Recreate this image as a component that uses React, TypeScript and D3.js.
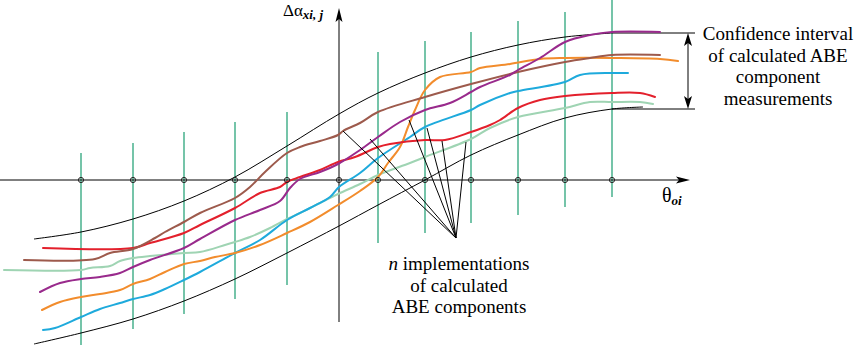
import React from "react";
import * as d3 from "d3";

// θ (x) and Δα (y) in chart units
const X_TICKS = [-51.6, -41.2, -31, -20.8, -10.4, 0, 7.8, 17.2, 26.4, 35.8, 45.2, 54.6];
const GRID_TOP = [5.4, 7.4, 9.6, 11.6, 13.6, null, 25.6, 27.8, 29.6, 31.8, 33.6, 36];
const GRID_BOTTOM = [-33, -29.8, -26.8, -23.8, -21, null, -12.6, -10.6, -8.6, -7, -5.4, -3.4];

const UPPER_BOUND: [number, number][] = [
  [-61, -11.8], [-51.6, -10.4], [-41.2, -7.8], [-31, -4.2], [-20.8, 0.6], [-10.4, 6.8],
  [0, 13.2], [7.8, 17.4], [17.2, 21.4], [26.4, 24.6], [35.8, 27], [45.2, 28.6], [54.6, 29.4],
];
const LOWER_BOUND: [number, number][] = [
  [-61, -32.8], [-51.6, -30.6], [-41.2, -27.8], [-31, -24.2], [-20.8, -19.8], [-10.4, -14.6],
  [0, -9.2], [7.8, -5], [17.2, 0], [26.4, 5], [35.8, 9], [45.2, 12.4], [54.6, 14.2], [60.8, 14.6],
];

const RED: [number, number][] = [
  [-59.2, -13.6], [-41.2, -13.6], [-37.8, -12.6], [-31, -10.6], [-27.8, -9], [-20.8, -5.6],
  [-15.8, -2.6], [-11.8, -1.4], [-10.4, -0.4], [-7.8, 0.6], [-3.8, 2], [-0.2, 3.6], [3.2, 4.6],
  [7.8, 6.6], [10.2, 7.2], [17.2, 8], [21.2, 8], [26.4, 9.6], [30.2, 11], [32.2, 12], [35.8, 14.4],
  [40.2, 16], [45.2, 16.8], [54.6, 17.4], [60.2, 17.4], [63.2, 16.6],
];
const BROWN: [number, number][] = [
  [-63, -16], [-48.8, -15.8], [-45.8, -14.6], [-41.2, -13.8], [-36.8, -11.6], [-34.8, -10.4],
  [-31, -8.4], [-27.8, -6.6], [-20.8, -3.6], [-17.8, -1.4], [-14.8, 1.6], [-10.4, 5.4], [-7.8, 6.6],
  [-3.8, 7.8], [-0.2, 9], [0.8, 9.8], [4.2, 11.4], [7.8, 13.6], [17.2, 16.6], [26.4, 19.2],
  [35.8, 21.6], [45.2, 23.6], [50.2, 24.4], [54.6, 25], [64.2, 25],
];
const LIGHT_GREEN: [number, number][] = [
  [-67, -18], [-51.6, -18], [-49.8, -17.6], [-45.8, -17.2], [-43.8, -16.2], [-41.2, -15.6],
  [-37.8, -15.2], [-31, -14.6], [-27.8, -14.4], [-22.8, -13], [-20.8, -12.4], [-17.8, -11.4],
  [-13.8, -9.6], [-10.4, -7.8], [-7.8, -6.6], [-3.8, -4.6], [-0.2, -2.8], [4.2, -0.8], [7.8, 1],
  [14.2, 3.4], [17.2, 4.6], [26.4, 8.2], [30.2, 10.4], [35.8, 12.6], [45.2, 14.4], [50.2, 15.6],
  [54.6, 15.6], [60.2, 15.6], [62.8, 15.2],
];
const PURPLE: [number, number][] = [
  [-59.8, -22.4], [-55.8, -20.6], [-51.6, -19.8], [-47.8, -19.4], [-43.8, -18.6], [-41.2, -17.4],
  [-37.8, -16], [-31, -13.6], [-27.8, -11.8], [-20.8, -8], [-15.8, -6], [-11.8, -4.2], [-9.8, -1.6],
  [-7.8, 0.2], [-3.8, 1.6], [-0.2, 3.2], [4.2, 6], [7.8, 8.6], [12.2, 11.6], [17.2, 14], [22.2, 15.4],
  [26.4, 17.6], [28.2, 18.6], [34.2, 21], [35.8, 22], [40.2, 24.4], [45.2, 27.6], [50.2, 29],
  [54.6, 29.6], [64.2, 29.6],
];
const ORANGE: [number, number][] = [
  [-59.4, -26], [-55.8, -24.4], [-51.6, -23.4], [-47.8, -22.8], [-43.8, -22], [-41.2, -20.8],
  [-37.8, -19.8], [-34.8, -18.4], [-31, -16.8], [-27.8, -16.2], [-24.8, -15.4], [-20.8, -14.6],
  [-15.8, -13], [-10.4, -10.6], [-5.8, -8.4], [-0.2, -5], [4.2, -2.2], [7.8, 0.6], [9.8, 3.4],
  [12.2, 6.6], [13.8, 10.6], [15.2, 14], [17.2, 18], [20.2, 20.6], [26.4, 21.6], [28.2, 22.4],
  [34.2, 23.2], [40.2, 24.2], [45.2, 24.4], [54.6, 24.4], [64.2, 24.2], [67.8, 23.8],
];
const CYAN: [number, number][] = [
  [-59.2, -30], [-56.8, -29.6], [-51.6, -27.4], [-47.8, -25.8], [-43.8, -24.6], [-41.2, -23.8],
  [-37.8, -23], [-34.8, -21.8], [-31, -20], [-27.8, -18.4], [-20.8, -14.6], [-15.8, -12],
  [-10.4, -8], [-5.8, -5.6], [-1.8, -3.4], [0, -1.4], [4.2, 1.4], [7.8, 4.4], [14.2, 8.6],
  [17.2, 10.6], [26.4, 14], [28.2, 15], [34.2, 17.4], [35.8, 17.8], [45.2, 19.6], [48.2, 21],
  [54.6, 21.4], [57.8, 21.4],
];

const SERIES = [
  { name: "lightgreen", color: "#9fd4b3", data: LIGHT_GREEN },
  { name: "cyan", color: "#1eaadc", data: CYAN },
  { name: "orange", color: "#f28c2c", data: ORANGE },
  { name: "red", color: "#e3202c", data: RED },
  { name: "brown", color: "#9d5a4c", data: BROWN },
  { name: "purple", color: "#992a8c", data: PURPLE },
];

// pointer lines from the label to the curves
const POINTER_FROM: [number, number] = [23.4, -11.6];
const POINTER_TO: [number, number][] = [
  [0.8, 9.8], [6.2, 8.2], [14, 12], [17.6, 10.4], [20.6, 7.8], [25.4, 7.6],
];

const CI_LABEL = ["Confidence interval", "of calculated ABE", "component", "measurements"];
const N_LABEL = ["implementations", "of calculated", "ABE components"];

const W = 858;
const H = 345;
const FONT = "'Liberation Serif', 'Times New Roman', 'DejaVu Serif', serif";

export default function App() {
  const x = d3.scaleLinear().domain([-67.8, 70.2]).range([0, 690]);
  const y = d3.scaleLinear().domain([-33, 36]).range([345, 0]);
  const line = d3
    .line<[number, number]>()
    .x((d) => x(d[0]))
    .y((d) => y(d[1]))
    .curve(d3.curveCatmullRom.alpha(0.5));

  const ox = x(0);
  const oy = y(0);
  const xEnd = x(70.2);
  const yTop = y(34.4);
  const yBottom = y(-28.4);

  const upperEnd = UPPER_BOUND[UPPER_BOUND.length - 1];
  const lowerEndY = y(14.2);
  const bracketX = x(69.8);
  const bracketEnd = x(71.2);
  const topY = y(upperEnd[1]);

  const ts: React.CSSProperties = { fontFamily: FONT };

  return (
    <svg
      width={W}
      height={H}
      style={{ position: "absolute", left: 0, top: 0, background: "#fff" }}
    >
      {/* green vertical lines */}
      {X_TICKS.map((t, i) =>
        GRID_TOP[i] == null ? null : (
          <line
            key={"g" + i}
            x1={x(t)}
            x2={x(t)}
            y1={y(GRID_TOP[i] as number)}
            y2={y(GRID_BOTTOM[i] as number)}
            stroke="#66bea0"
            strokeWidth={1.8}
          />
        )
      )}

      {/* axes */}
      <line x1={0} x2={xEnd - 6} y1={oy} y2={oy} stroke="#000" strokeWidth={1} />
      <path
        d={`M${xEnd},${oy} L${xEnd - 14},${oy - 3.5} L${xEnd - 11},${oy} L${xEnd - 14},${oy + 3.5} Z`}
        fill="#000"
      />
      <line x1={ox} x2={ox} y1={yBottom} y2={yTop + 6} stroke="#000" strokeWidth={1} />
      <path
        d={`M${ox},${yTop} L${ox - 3.5},${yTop + 14} L${ox},${yTop + 11} L${ox + 3.5},${yTop + 14} Z`}
        fill="#000"
      />

      {/* confidence envelope */}
      <path d={line(UPPER_BOUND) || ""} fill="none" stroke="#000" strokeWidth={1} />
      <path d={line(LOWER_BOUND) || ""} fill="none" stroke="#000" strokeWidth={1} />
      <line x1={x(upperEnd[0])} x2={bracketEnd} y1={topY} y2={topY} stroke="#000" strokeWidth={1} />
      <line x1={x(54.6)} x2={bracketEnd} y1={lowerEndY} y2={lowerEndY} stroke="#000" strokeWidth={1} />

      {/* bracket */}
      <line x1={bracketX} x2={bracketX} y1={topY + 6} y2={lowerEndY - 6} stroke="#000" strokeWidth={1} />
      <path
        d={`M${bracketX},${topY} L${bracketX - 4},${topY + 13} L${bracketX},${topY + 10} L${bracketX + 4},${topY + 13} Z`}
        fill="#000"
      />
      <path
        d={`M${bracketX},${lowerEndY} L${bracketX - 4},${lowerEndY - 13} L${bracketX},${lowerEndY - 10} L${bracketX + 4},${lowerEndY - 13} Z`}
        fill="#000"
      />

      {/* series */}
      {SERIES.map((s) => (
        <path
          key={s.name}
          d={line(s.data) || ""}
          fill="none"
          stroke={s.color}
          strokeWidth={2}
          strokeLinejoin="round"
          strokeLinecap="round"
        />
      ))}

      {/* pointer lines */}
      {POINTER_TO.map((p, i) => (
        <line
          key={"p" + i}
          x1={x(POINTER_FROM[0])}
          y1={y(POINTER_FROM[1])}
          x2={x(p[0])}
          y2={y(p[1])}
          stroke="#000"
          strokeWidth={1}
        />
      ))}

      {/* tick circles */}
      {X_TICKS.map((t, i) => (
        <circle key={"c" + i} cx={x(t)} cy={oy} r={2.6} fill="none" stroke="#222" strokeWidth={1} />
      ))}

      {/* axis labels */}
      <text x={ox - 56} y={16} fontSize={17} fill="#000" style={ts}>
        Δα
        <tspan fontSize={13} fontWeight="bold" fontStyle="italic" dy={3}>
          xi, j
        </tspan>
      </text>
      <text x={662} y={202} fontSize={20} fill="#000" style={ts}>
        θ
        <tspan fontSize={13} fontWeight="bold" fontStyle="italic" dy={3}>
          oi
        </tspan>
      </text>

      {/* confidence interval label */}
      {CI_LABEL.map((s, i) => (
        <text key={"ci" + i} x={778} y={40 + i * 21.7} fontSize={19} textAnchor="middle" fill="#000" style={ts}>
          {s}
        </text>
      ))}

      {/* implementations label */}
      {N_LABEL.map((s, i) => (
        <text key={"n" + i} x={459} y={270 + i * 21.5} fontSize={19} textAnchor="middle" fill="#000" style={ts}>
          {i === 0 ? (
            <>
              <tspan fontStyle="italic">n</tspan> {s}
            </>
          ) : (
            s
          )}
        </text>
      ))}
    </svg>
  );
}
